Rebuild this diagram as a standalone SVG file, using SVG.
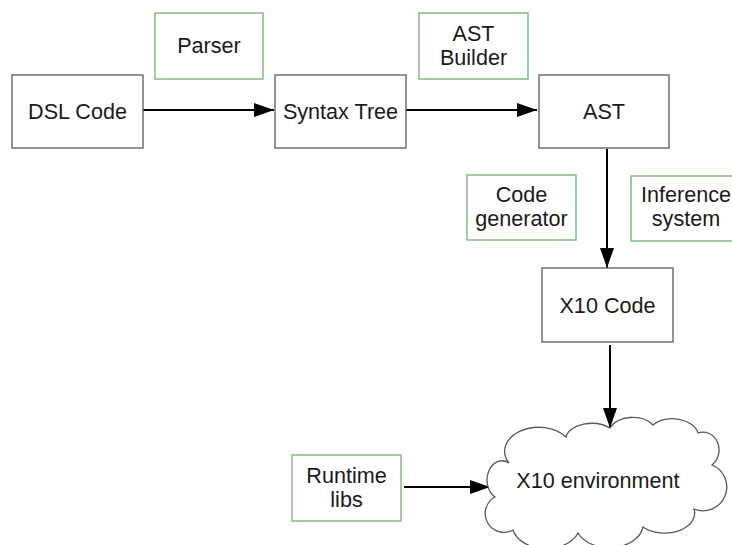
<svg xmlns="http://www.w3.org/2000/svg" width="732" height="545" viewBox="0 0 732 545">
  <style>
    .box { fill: #ffffff; stroke: #5a5a5a; stroke-width: 1.3; }
    .tool { fill: #ffffff; stroke: #6db36d; stroke-width: 1.3; }
    .lbl { font-family: "Liberation Sans", Arial, sans-serif; font-size: 21.6px; fill: #1a1a1a; text-anchor: middle; }
    .edge { stroke: #000000; stroke-width: 2; fill: none; marker-end: url(#arrow); }
  </style>
  <defs>
    <marker id="arrow" viewBox="0 0 20 14" refX="20" refY="7" markerWidth="20" markerHeight="14" markerUnits="userSpaceOnUse" orient="auto">
      <path d="M0,0 L20,7 L0,14 Z" fill="#000000"/>
    </marker>
  </defs>
  <rect width="732" height="545" fill="#ffffff"/>

  <g id="connectors">
    <line class="edge" x1="143" y1="110" x2="274" y2="110"/>
    <line class="edge" x1="406" y1="110" x2="537" y2="110"/>
    <line class="edge" x1="607" y1="149" x2="607" y2="268"/>
    <line class="edge" x1="610" y1="345" x2="610" y2="428"/>
    <line class="edge" x1="404" y1="487" x2="490" y2="487"/>
  </g>

  <g id="dsl-code">
    <rect class="box" x="12" y="75" width="131" height="73"/>
    <text class="lbl" x="77.5" y="119">DSL Code</text>
  </g>
  <g id="parser">
    <rect class="tool" x="155" y="13" width="108" height="66"/>
    <text class="lbl" x="209" y="53">Parser</text>
  </g>
  <g id="syntax-tree">
    <rect class="box" x="275" y="75" width="131" height="73"/>
    <text class="lbl" x="340.5" y="119">Syntax Tree</text>
  </g>
  <g id="ast-builder">
    <rect class="tool" x="419" y="13" width="109" height="66"/>
    <text class="lbl" x="473.5" y="41">AST</text>
    <text class="lbl" x="473.5" y="65">Builder</text>
  </g>
  <g id="ast">
    <rect class="box" x="539" y="75" width="130" height="73"/>
    <text class="lbl" x="604" y="119">AST</text>
  </g>
  <g id="code-generator">
    <rect class="tool" x="467" y="175" width="109" height="65"/>
    <text class="lbl" x="521.5" y="202">Code</text>
    <text class="lbl" x="521.5" y="226">generator</text>
  </g>
  <g id="inference-system">
    <rect class="tool" x="631" y="176" width="110" height="65"/>
    <text class="lbl" x="686" y="202">Inference</text>
    <text class="lbl" x="686" y="226">system</text>
  </g>
  <g id="x10-code">
    <rect class="box" x="542" y="268" width="131" height="74"/>
    <text class="lbl" x="607.5" y="313">X10 Code</text>
  </g>
  <g id="runtime-libs">
    <rect class="tool" x="292" y="455" width="109" height="66"/>
    <text class="lbl" x="346.5" y="483">Runtime</text>
    <text class="lbl" x="346.5" y="507">libs</text>
  </g>
  <g id="x10-environment">
    <!-- cloud outline: arcs joined clockwise, lower lobes run past the bottom edge -->
    <path class="box" d="M509,463
      A34,24 0 0 1 566,437
      A26,16 0 0 1 610,428
      A24,16 0 0 1 653,425
      A26,18 0 0 1 698,433
      A16,18 0 0 1 712,465
      A22,22 0 0 1 694,509
      A30,20 0 0 1 643,527
      A34,24 0 0 1 578,533
      A34,24 0 0 1 513,530
      A18,18 0 0 1 495,497
      A14,18 0 0 1 509,463 Z"/>
    <text class="lbl" x="598" y="488">X10 environment</text>
  </g>
</svg>
